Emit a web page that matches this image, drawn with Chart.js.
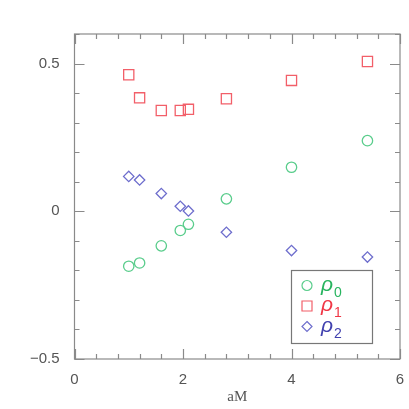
<!DOCTYPE html>
<html>
<head>
<meta charset="utf-8">
<script src="https://cdn.jsdelivr.net/npm/chart.js@4.4.1/dist/chart.umd.min.js"></script>
<style>
  html, body { margin: 0; padding: 0; background: #fff; }
  #wrap { width: 409px; height: 409px; }
</style>
</head>
<body>
<div id="wrap"><canvas id="chart" width="409" height="409"></canvas></div>
<script>
const aM = [1.0, 1.2, 1.6, 1.95, 2.1, 2.8, 4.0, 5.4];
const rho0 = [-0.186, -0.175, -0.117, -0.065, -0.044, 0.042, 0.149, 0.239];
const rho1 = [0.462, 0.384, 0.341, 0.341, 0.345, 0.381, 0.443, 0.507];
const rho2 = [0.118, 0.106, 0.060, 0.017, 0.001, -0.071, -0.133, -0.155];

const xTicks = [0, 2, 4, 6];
const yTicks = [-0.5, 0, 0.5];
const xMinorStep = 0.4;
const yMinorStep = 0.1;

const seriesNames = ["0", "1", "2"];
const markColors = ["rgb(90,205,140)", "rgb(242,95,105)", "rgb(110,110,205)"];
const textColors = ["rgb(40,180,95)", "rgb(240,55,70)", "rgb(65,65,175)"];
const pointStyles = ["circle", "rect", "rectRot"];
const pointSizes = [5.2, 7.2, 5.2];

const axisColor = "#8a8a8a";
const labelColor = "#555";

function toPoints(ys) {
  return aM.map((x, i) => ({ x, y: ys[i] }));
}

function fmt(v) {
  if (v === 0) return "0";
  return (v < 0 ? "\u2212" : "") + Math.abs(v).toString();
}

// inward ticks on all four sides + frame
const frameTicks = {
  id: "frameTicks",
  afterDraw(chart) {
    const { ctx, chartArea: a, scales } = chart;
    const xs = scales.x, ys = scales.y;
    ctx.save();
    ctx.strokeStyle = axisColor;
    ctx.lineWidth = 1.2;
    ctx.strokeRect(a.left, a.top, a.right - a.left, a.bottom - a.top);
    ctx.beginPath();
    for (let v = 0; v <= 6.0001; v += xMinorStep) {
      const px = Math.round(xs.getPixelForValue(v)) + 0.5;
      const major = xTicks.some((t) => Math.abs(t - v) < 1e-6);
      const len = major ? 10 : 5;
      ctx.moveTo(px, a.bottom); ctx.lineTo(px, a.bottom - len);
      ctx.moveTo(px, a.top); ctx.lineTo(px, a.top + len);
    }
    for (let v = -0.5; v <= 0.6001; v += yMinorStep) {
      const py = Math.round(ys.getPixelForValue(v)) + 0.5;
      const major = yTicks.some((t) => Math.abs(t - v) < 1e-6);
      const len = major ? 10 : 5;
      ctx.moveTo(a.left, py); ctx.lineTo(a.left + len, py);
      ctx.moveTo(a.right, py); ctx.lineTo(a.right - len, py);
    }
    ctx.stroke();
    ctx.restore();
  },
};

// boxed legend with subscripted rho labels
const rhoLegend = {
  id: "rhoLegend",
  afterDraw(chart) {
    const { ctx } = chart;
    const box = { x: 291.5, y: 270.5, w: 81, h: 73 };
    ctx.save();
    ctx.strokeStyle = "#777";
    ctx.lineWidth = 1.2;
    ctx.strokeRect(box.x, box.y, box.w, box.h);
    seriesNames.forEach((name, i) => {
      const cy = 285.5 + i * 20.5;
      const cx = 307;
      ctx.strokeStyle = markColors[i];
      ctx.lineWidth = 1.2;
      ctx.beginPath();
      if (i === 0) {
        ctx.arc(cx, cy, 5, 0, Math.PI * 2);
      } else if (i === 1) {
        ctx.rect(cx - 5, cy - 5, 10, 10);
      } else {
        ctx.moveTo(cx, cy - 5); ctx.lineTo(cx + 5, cy);
        ctx.lineTo(cx, cy + 5); ctx.lineTo(cx - 5, cy); ctx.closePath();
      }
      ctx.stroke();
      ctx.fillStyle = textColors[i];
      ctx.textBaseline = "alphabetic";
      ctx.font = "italic 21px 'Liberation Sans', sans-serif";
      ctx.fillText("\u03C1", 321, cy + 5);
      ctx.font = "14px 'Liberation Sans', sans-serif";
      ctx.fillText(name, 334, cy + 11);
    });
    ctx.restore();
  },
};

new Chart(document.getElementById("chart"), {
  type: "scatter",
  data: {
    datasets: [rho0, rho1, rho2].map((ys, i) => ({
      label: "rho" + seriesNames[i],
      data: toPoints(ys),
      pointStyle: pointStyles[i],
      pointRadius: pointSizes[i],
      pointHoverRadius: pointSizes[i],
      borderColor: markColors[i],
      backgroundColor: "rgba(0,0,0,0)",
      pointBorderWidth: 1.3,
    })),
  },
  options: {
    responsive: false,
    animation: false,
    layout: { padding: { top: 34, right: 9, left: 0, bottom: 0 } },
    plugins: { legend: { display: false }, tooltip: { enabled: false } },
    scales: {
      x: {
        type: "linear",
        min: 0,
        max: 6,
        afterBuildTicks: (s) => { s.ticks = xTicks.map((v) => ({ value: v })); },
        afterFit: (s) => { s.height = 50; },
        grid: { display: false },
        border: { display: false },
        ticks: {
          color: labelColor,
          font: { family: "'Liberation Sans', sans-serif", size: 15 },
          padding: 4,
          maxRotation: 0,
          callback: (v) => fmt(v),
        },
        title: {
          display: true,
          text: "aM",
          color: labelColor,
          font: { family: "'Liberation Serif', serif", size: 15 },
          padding: { top: 0, bottom: 3 },
        },
      },
      y: {
        type: "linear",
        min: -0.5,
        max: 0.6,
        afterBuildTicks: (s) => { s.ticks = yTicks.map((v) => ({ value: v })); },
        afterFit: (s) => { s.width = 74.5; },
        grid: { display: false },
        border: { display: false },
        ticks: {
          color: labelColor,
          font: { family: "'Liberation Sans', sans-serif", size: 15 },
          padding: 7,
          callback: (v) => fmt(v),
        },
      },
    },
  },
  plugins: [frameTicks, rhoLegend],
});
</script>
</body>
</html>
